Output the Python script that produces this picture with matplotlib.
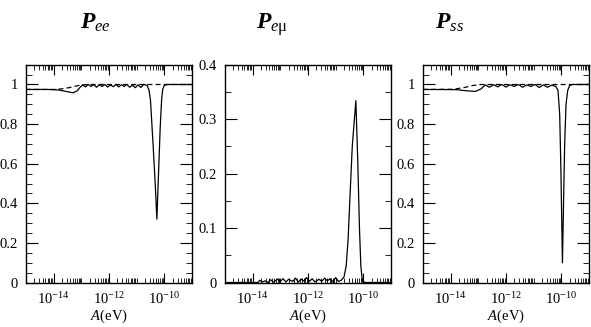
import numpy as np
import matplotlib
matplotlib.use("Agg")
import matplotlib.pyplot as plt
from matplotlib.ticker import FixedLocator, FormatStrFormatter, MultipleLocator, NullFormatter

plt.rcParams['font.family'] = ['Liberation Serif', 'DejaVu Serif']
plt.rcParams['mathtext.fontset'] = 'custom'
plt.rcParams['mathtext.rm'] = 'Liberation Serif'
plt.rcParams['mathtext.it'] = 'Liberation Serif:italic'
plt.rcParams['mathtext.bf'] = 'Liberation Serif:bold'
plt.rcParams['mathtext.bfit'] = 'Liberation Serif:italic:bold'

# ---- du lieu (log10 A, P) doc tu hinh ----
ee_logA = [-15, -14.2, -13.8, -13.55, -13.3, -13.15, -13.05,
           -12.95, -12.85, -12.75, -12.65, -12.55, -12.45, -12.35, -12.25, -12.15,
           -12.05, -11.95, -11.85, -11.75, -11.65, -11.55, -11.45, -11.35, -11.25,
           -11.15, -11.05, -10.95, -10.85, -10.75, -10.68,
           -10.62, -10.55, -10.5, -10.45, -10.4, -10.33, -10.27, -10.21, -10.15,
           -10.1, -10.06, -10.0, -9.9, -9.0]
ee_P = [0.975, 0.975, 0.972, 0.965, 0.958, 0.968, 0.985,
        0.998, 0.988, 1.0, 0.99, 1.0, 0.986, 0.999, 0.99, 1.0,
        0.987, 0.998, 0.989, 1.0, 0.988, 0.999, 0.99, 1.0, 0.986,
        0.997, 0.984, 0.998, 0.985, 1.0, 0.998,
        0.995, 0.97, 0.92, 0.8, 0.68, 0.5, 0.32, 0.55, 0.78,
        0.92, 0.975, 0.995, 1.0, 1.0]
ee_avg_logA = [-15, -14.0, -13.7, -13.4, -13.1, -12.8, -9.0]
ee_avg_P = [0.975, 0.975, 0.978, 0.985, 0.995, 1.0, 1.0]

em_logA = [-15, -13.8, -13.75, -13.65, -13.55, -13.45, -13.35, -13.25, -13.1, -13.0,
           -12.9, -12.8, -12.7, -12.55, -12.45, -12.35, -12.25, -12.15, -12.05, -11.95,
           -11.85, -11.75, -11.6, -11.5, -11.4, -11.3, -11.2, -11.1, -11.0, -10.9,
           -10.8, -10.7, -10.62, -10.55, -10.48, -10.4, -10.27, -10.2, -10.14, -10.09,
           -10.04, -9.95, -9.0]
em_P = [0.0, 0.0, 0.004, 0.001, 0.003, 0.0, 0.005, 0.001, 0.006, 0.002,
        0.007, 0.001, 0.006, 0.002, 0.008, 0.001, 0.006, 0.003, 0.009, 0.002,
        0.007, 0.001, 0.006, 0.002, 0.008, 0.003, 0.007, 0.001, 0.009, 0.002,
        0.004, 0.01, 0.03, 0.08, 0.16, 0.25, 0.334, 0.22, 0.1, 0.03,
        0.005, 0.0, 0.0]

ss_logA = [-15, -13.8, -13.4, -13.1, -12.9, -12.75,
           -12.6, -12.45, -12.3, -12.15, -12.0, -11.85, -11.7, -11.55, -11.4, -11.25,
           -11.1, -10.95, -10.8, -10.65, -10.5, -10.35, -10.2,
           -10.12, -10.06, -10.02, -9.99, -9.96, -9.92, -9.88, -9.83, -9.77, -9.7,
           -9.6, -9.0]
ss_P = [0.975, 0.974, 0.968, 0.965, 0.978, 0.998,
        0.986, 0.999, 0.988, 1.0, 0.987, 0.999, 0.99, 1.0, 0.986, 0.998,
        0.99, 1.0, 0.985, 0.998, 0.986, 0.997, 0.99,
        0.97, 0.85, 0.6, 0.35, 0.1, 0.4, 0.7, 0.9, 0.97, 0.995,
        1.0, 1.0]
ss_avg_logA = [-15, -13.9, -13.5, -13.2, -12.9, -9.0]
ss_avg_P = [0.975, 0.976, 0.985, 0.995, 1.0, 1.0]

titles = [r'$\mathbfit{P}_{ee}$', r'$\mathbfit{P}_{e\mathrm{\mu}}$', r'$\mathbfit{P}_{ss}$']
title_x = [95, 272, 449]
x_ticklabels = [r'$10^{-14}$', r'$10^{-12}$', r'$10^{-10}$']

fig = plt.figure(figsize=(5.91, 3.27), dpi=100)
W, H = 591.0, 327.0
lefts = [26, 225, 423]
axes = [fig.add_axes([l / W, 1 - 282.5 / H, 166 / W, (282.5 - 64.7) / H]) for l in lefts]

major_x = [1e-14, 1e-12, 1e-10]
minor_x = [k * 10.0 ** n for n in range(-15, -9) for k in range(1, 10)]
minor_x = [v for v in minor_x if all(abs(v / m - 1) > 1e-6 for m in major_x)] + [1e-9]

def style(ax, ymax, ymajor, yminor):
    ax.set_xscale('log')
    ax.set_xlim(1e-15, 1e-9)
    ax.set_ylim(0, ymax)
    ax.xaxis.set_major_locator(FixedLocator(major_x))
    ax.xaxis.set_minor_locator(FixedLocator(minor_x))
    ax.xaxis.set_minor_formatter(NullFormatter())
    ax.set_xticklabels(x_ticklabels)
    ax.yaxis.set_major_locator(MultipleLocator(ymajor))
    ax.yaxis.set_minor_locator(MultipleLocator(yminor))
    ax.yaxis.set_major_formatter(FormatStrFormatter('%g'))
    ax.tick_params(axis='x', which='major', direction='in', length=7.2, width=0.8,
                   top=True, bottom=True, labelsize=10.5, pad=6)
    ax.tick_params(axis='x', which='minor', direction='in', length=3.6, width=0.6,
                   top=True, bottom=True)
    ax.tick_params(axis='y', which='major', direction='in', length=8.6, width=0.8,
                   left=True, right=True, labelsize=10.5, pad=6)
    ax.tick_params(axis='y', which='minor', direction='in', length=4.3, width=0.6,
                   left=True, right=True)
    for s in ax.spines.values():
        s.set_linewidth(1.0)
    ax.set_xlabel(r'$A$(eV)', fontsize=10.5, labelpad=1)

ax1, ax2, ax3 = axes
ax1.plot(10.0 ** np.array(ee_avg_logA), ee_avg_P, color='black', lw=0.9, dashes=(4, 2.5))
ax1.plot(10.0 ** np.array(ee_logA), ee_P, color='black', lw=0.9)
style(ax1, 1.1, 0.2, 0.05)

ax2.plot(10.0 ** np.array(em_logA), em_P, color='black', lw=0.9)
style(ax2, 0.4, 0.1, 0.05)

ax3.plot(10.0 ** np.array(ss_avg_logA), ss_avg_P, color='black', lw=0.9, dashes=(4, 2.5))
ax3.plot(10.0 ** np.array(ss_logA), ss_P, color='black', lw=0.9)
style(ax3, 1.1, 0.2, 0.05)

for t, x in zip(titles, title_x):
    fig.text(x / W, 1 - 29 / H, t, fontsize=17, ha='center', va='baseline')

fig.savefig('out.png', dpi=100)
